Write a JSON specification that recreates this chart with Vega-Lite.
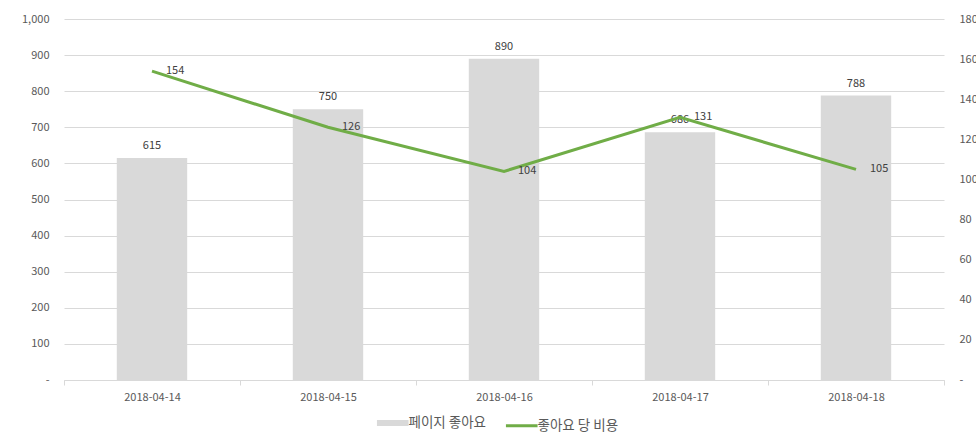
{
  "$schema": "https://vega.github.io/schema/vega-lite/v6.json",
  "autosize": {"type": "none"},
  "width": 880,
  "height": 361,
  "padding": {"left": 64, "top": 19, "right": 32, "bottom": 63},
  "background": "white",
  "config": {
    "view": {"stroke": null},
    "font": "Noto Sans CJK KR",
    "axis": {"labelFont": "Noto Sans CJK KR", "labelFontSize": 11, "labelColor": "#595959", "titleColor": "#595959"},
    "legend": {
      "title": null, "orient": "none", "legendX": 322, "legendY": 397, "direction": "horizontal",
      "labelFontSize": 13.5, "labelColor": "#595959", "labelFont": "Noto Sans CJK KR", "labelOffset": 9,
      "symbolType": "stroke", "symbolSize": 1000, "columnPadding": 12
    }
  },
  "data": {
    "values": [
      {"date": "2018-04-14", "likes": 615, "cost": 154},
      {"date": "2018-04-15", "likes": 750, "cost": 126},
      {"date": "2018-04-16", "likes": 890, "cost": 104},
      {"date": "2018-04-17", "likes": 686, "cost": 131},
      {"date": "2018-04-18", "likes": 788, "cost": 105}
    ]
  },
  "encoding": {
    "x": {
      "field": "date", "type": "nominal", "title": null,
      "scale": {"paddingInner": 0, "paddingOuter": 0},
      "axis": {"labelAngle": 0, "tickBand": "extent", "domainColor": "#d9d9d9", "tickColor": "#d9d9d9", "tickSize": 5, "labelPadding": 6}
    }
  },
  "layer": [
    {
      "encoding": {
        "y": {
          "field": "likes", "type": "quantitative", "title": null,
          "scale": {"domain": [0, 1000], "nice": false},
          "axis": {"tickCount": 10, "labelOverlap": false, "labelExpr": "datum.value === 0 ? '-' : format(datum.value, ',')", "gridColor": "#d9d9d9", "domain": false, "ticks": false, "labelPadding": 15}
        }
      },
      "layer": [
        {
          "mark": {"type": "bar", "width": {"band": 0.4}},
          "encoding": {
            "color": {
              "datum": "페이지 좋아요", "type": "nominal",
              "scale": {"domain": ["페이지 좋아요", "좋아요 당 비용"], "range": ["#d9d9d9", "#70ad47"]},
              "legend": {
                "encode": {
                  "symbols": {
                    "update": {
                      "strokeWidth": {"signal": "datum.value === '페이지 좋아요' ? 6 : 3"},
                      "stroke": {"scale": "color", "field": "value"}
                    }
                  }
                }
              }
            }
          }
        },
        {
          "mark": {"type": "text", "baseline": "bottom", "dy": -7, "fontSize": 11, "color": "#404040"},
          "encoding": {
            "text": {"field": "likes", "type": "quantitative"}
          }
        }
      ]
    },
    {
      "encoding": {
        "y": {
          "field": "cost", "type": "quantitative", "title": null,
          "scale": {"domain": [0, 180], "nice": false},
          "axis": {"orient": "right", "values": [0,20,40,60,80,100,120,140,160,180], "labelOverlap": false, "labelExpr": "datum.value === 0 ? '-' : format(datum.value, ',')", "grid": false, "domain": false, "ticks": false, "labelPadding": 15}
        }
      },
      "layer": [
        {
          "mark": {"type": "line", "strokeWidth": 3},
          "encoding": {
            "color": {
              "datum": "좋아요 당 비용", "type": "nominal",
              "scale": {"domain": ["페이지 좋아요", "좋아요 당 비용"], "range": ["#d9d9d9", "#70ad47"]},
              "legend": {
                "encode": {
                  "symbols": {
                    "update": {
                      "strokeWidth": {"signal": "datum.value === '페이지 좋아요' ? 6 : 3"},
                      "stroke": {"scale": "color", "field": "value"}
                    }
                  }
                }
              }
            }
          }
        },
        {
          "mark": {"type": "text", "align": "left", "baseline": "middle", "dx": 14, "fontSize": 11, "color": "#404040"},
          "encoding": {
            "text": {"field": "cost", "type": "quantitative"}
          }
        }
      ]
    }
  ],
  "resolve": {"scale": {"y": "independent"}}
}
